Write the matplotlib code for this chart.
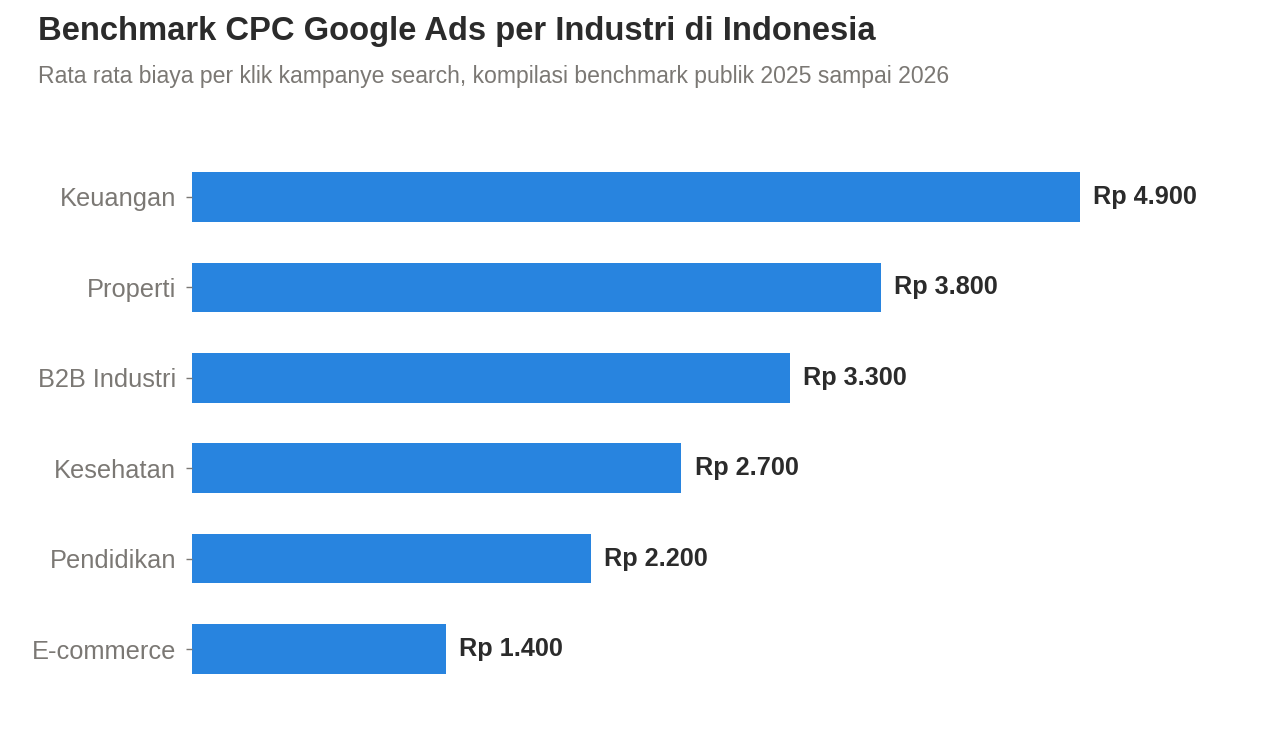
import matplotlib
matplotlib.use("Agg")
import matplotlib.pyplot as plt

categories = ["Keuangan", "Properti", "B2B Industri", "Kesehatan", "Pendidikan", "E-commerce"]
values = [4900, 3800, 3300, 2700, 2200, 1400]
value_labels = ["Rp 4.900", "Rp 3.800", "Rp 3.300", "Rp 2.700", "Rp 2.200", "Rp 1.400"]

title = "Benchmark CPC Google Ads per Industri di Indonesia"
subtitle = "Rata rata biaya per klik kampanye search, kompilasi benchmark publik 2025 sampai 2026"

plt.rcParams['font.family'] = ['Liberation Sans', 'DejaVu Sans']

GRAY = '#7b7874'
DARK = '#2b2b2b'

fig = plt.figure(figsize=(12.8, 7.36), dpi=100)
ax = fig.add_axes([192/1280, 1-699/736, (1240-192)/1280, (699-147)/736])

ypos = list(range(len(categories)))[::-1]
ax.barh(ypos, values, height=0.55, color="#2884DF")
vmax = max(values)
ax.set_xlim(0, vmax*1.18)
for y, v, lab in zip(ypos, values, value_labels):
    ax.text(v + vmax*0.015, y, lab, va='center', ha='left', fontsize=18.2,
            fontweight='bold', color=DARK)

ax.set_yticks(ypos)
ax.set_yticklabels(categories, fontsize=18.3, color=GRAY)
ax.tick_params(axis='y', length=4.5, width=1, color=GRAY, pad=7)
ax.set_xticks([])
for s in ax.spines.values():
    s.set_visible(False)

fig.text(38/1280, 1-40/736, title, fontsize=23.6, fontweight='bold', color=DARK, va='baseline', ha='left')
fig.text(38/1280, 1-83/736, subtitle, fontsize=16.6, color=GRAY, va='baseline', ha='left')

fig.savefig("out.png", dpi=100, facecolor='white')
